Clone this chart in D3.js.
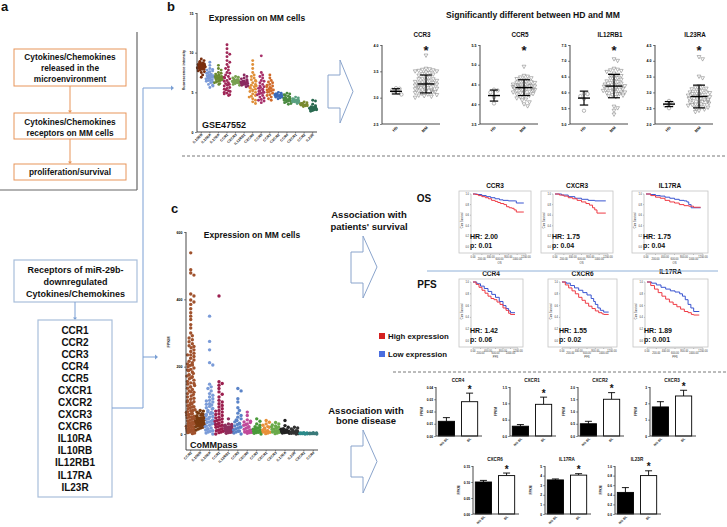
<!DOCTYPE html>
<html><head><meta charset="utf-8">
<script src="https://cdn.jsdelivr.net/npm/d3@7"></script>
<style>body{margin:0;background:#fff}svg{display:block}text{font-family:"Liberation Sans",Arial,Helvetica,sans-serif}</style>
</head><body><svg id="c" width="727" height="527"></svg>
<script>
// ================= DATA =================
const flowTexts = [["Cytokines/Chemokines","released in the","microenvironment"],["Cytokines/Chemokines","receptors on MM cells"],["proliferation/survival"]];
const receptorHeader = ["Receptors of miR-29b-","downregulated","Cytokines/Chemokines"];
const receptorList = ["CCR1","CCR2","CCR3","CCR4","CCR5","CXCR1","CXCR2","CXCR3","CXCR6","IL10RA","IL10RB","IL12RB1","IL17RA","IL23R"];

const gseCategories = ["IL10RB","IL10RA","IL17RA","CCR1","CXCR3","IL12RB1","CXCR6","CCR5","CCR3","CXCR2","CCR4","CXCR1","CCR2","IL23R"];
const gseTicks = [0,5,10,15];
const gseValues = [
 [8.2,8.4,8.0,8.6,8.3,7.9,8.5,8.1,8.8,7.8,8.3,8.7,8.0,8.4,9.0,7.7,8.2,8.6,8.1,8.5,7.5,8.9,8.3,7.9,8.0,8.4,7.2,6.9,8.2,8.6,9.2,7.6,8.1,8.3],
 [7.0,7.2,6.8,7.5,6.5,7.8,6.2,7.1,8.0,6.9,7.3,5.9,6.6,7.6,8.4,7.0,6.4,7.4,5.6,6.7,7.9,7.1,6.3,8.8,6.8,7.2,6.0,7.7,6.5,7.0,5.8,6.9],
 [6.8,7.0,6.6,7.2,6.4,6.9,7.5,6.2,6.7,7.1,8.0,6.5,6.9,7.3,6.1,6.8,7.8,6.6,6.3,7.0,8.4,6.7,7.4,6.0],
 [6.0,5.5,7.0,4.8,8.0,6.5,5.2,9.0,7.5,4.6,10.5,5.8,6.8,8.5,5.0,7.2,9.5,6.2,4.9,11.0,5.6,7.8,6.4,5.3,8.8,6.1,4.7,10.0,7.4,5.9,6.7,5.1,9.8,8.2,5.4,6.9],
 [6.4,6.5,6.2,6.7,6.3,6.6,6.1,6.8,6.4,6.0,6.9,6.5,6.3,6.6,6.2,7.0,6.4,5.9],
 [6.2,6.4,6.0,6.6,5.9,6.3,6.8,6.1,6.5,5.7,6.2,7.0,6.3,5.8,6.4,6.7,6.0,7.2,6.1],
 [5.5,5.0,6.0,4.5,6.5,5.2,7.0,4.2,5.8,6.8,3.8,5.4,7.5,4.8,6.2,8.5,5.6,4.0,6.6,5.1,8.0,3.6,5.9,7.2,4.6,6.4,5.3,9.0,4.4,5.7],
 [5.2,4.8,5.6,4.3,6.0,5.0,6.5,4.0,5.4,7.0,3.7,5.8,4.6,6.8,5.1,7.5,4.4,5.3,3.9,6.2,9.6,4.9,5.5,6.4,4.1,5.7,4.7,7.2,5.0],
 [5.3,5.0,5.6,4.7,5.9,5.2,6.2,4.4,5.5,6.5,4.9,5.8,4.2,6.0,5.4,7.2,4.6,5.1,6.8,5.7,4.0,5.3,6.3],
 [4.6,4.7,4.5,4.8,4.4,4.6,4.9,4.3,4.7,4.5,4.8,4.6,4.4,5.0,4.6,4.2],
 [4.1,4.3,3.9,4.5,3.8,4.2,4.7,3.6,4.0,4.4,4.9,3.7,4.2,4.6,3.9,4.0,4.3,3.5,4.8],
 [3.9,4.0,3.8,4.1,3.7,3.9,4.2,3.8,4.0,3.6,4.3,3.9,4.0,3.8,4.4],
 [3.4,3.5,3.3,3.6,3.4,3.2,3.5,3.7,3.3,3.4,3.6,3.8],
 [3.0,2.9,3.1,2.8,3.0,3.2,2.7,3.0,2.9,3.3,2.8,3.1,2.6,3.0,3.5,2.9,3.2,4.0,3.9,2.8,3.0]
];
const gseColors = ["#7a2e0e","#7a9ad8","#6a8a30","#a02858","#78a050","#8a2a60","#e0903a","#a8306a","#d06a2a","#3a6ab8","#4a8a40","#5aa080","#7a8a30","#2a6a50"];

const commCategories = ["CCR2","IL10RB","IL10RA","CCR1","IL12RB1","CCR5","CXCR6","CCR3","CXCR1","CXCR3","IL17RA","IL23R","CXCR2","CCR4"];
const commTicks = [0,200,400,600];
const commValues = [
 [1,3,4,6,8,9,11,13,14,16,18,20,21,23,25,27,29,31,33,35,37,39,41,44,46,48,51,53,56,58,61,64,66,69,72,75,78,81,84,87,90,93,96,99,103,106,110,113,117,120,124,128,132,136,140,144,148,152,156,160,164,168,172,176,180,184,188,192,196,200,204,208,212,216,220,225,230,235,240,245,250,256,262,268,274,280,10,30,50,70,95,125,150,175,205,235,260,285,292,300,315,325,340,350,360,372,385,392,398,410,416,472,478,488,538,140,170,190,60,80],
 [12,15,18,20,22,24,25,27,28,30,31,32,33,34,35,36,37,38,39,40,41,42,43,44,45,46,48,50,52,54,56,58,60,62,65,68,70,26,29,33,36,39,42,47,30,35,40],
 [0,3,6,10,14,18,22,26,30,34,38,42,46,50,54,58,62,66,70,74,78,82,86,90,95,100,105,110,115,120,128,135,140,148,205,212,250,275,350,8,16,24,32,44,52,64,76,88,98,12,36,60],
 [0,4,8,12,16,20,24,28,32,36,40,45,50,55,60,65,70,75,80,85,90,95,100,110,118,125,135,145,150,155,410,6,14,22,30,38,48,58,68,10,26,42],
 [2,4,6,8,10,12,14,16,18,20,22,24,26,28,30,45,5,9,13,17,21],
 [0,3,6,9,12,15,18,21,24,28,32,36,40,45,50,55,62,70,78,95,105,128,135,8,20,30,42],
 [2,4,6,8,10,14,18,22,26,30,34,38,42,55,65,5,12,20,28,36],
 [0,2,4,6,8,10,12,15,18,22,26,30,38,45,5,9,14,20],
 [1,3,5,7,9,12,15,18,22,26,30,35,40,6,10,20],
 [1,3,5,8,10,12,15,18,21,24,27,30,34,6,14,22],
 [2,3,4,5,6,7,8,9,10,11,12,14,16,20,25,40,6,8],
 [0,1,2,3,4,5,6,8,10,12,15,18,20,3,5],
 [0,0.5,1,1.5,2,2.5,3,4,1,2,3],
 [0,0.5,1,1.5,2,2.5,3,4,1,2]
];
const commColors = ["#a0522d","#7a3b10","#7a9bd8","#9b1f4f","#8e2f5e","#5b84c8","#c04a9a","#4a9a3a","#e8903a","#6aaa4a","#222222","#333333","#2a8a8a","#3a7a7a"];

const sigGenes = ["CCR3","CCR5","IL12RB1","IL23RA"];
const sigGroups = ["HD","MM"];
const sigTicks = [[2.5,3.0,3.5,4.0],[3.5,4.0,4.5,5.0,5.5],[5.0,5.5,6.0,6.5,7.0,7.5],[2.0,2.5,3.0,3.5,4.0,4.5]];
const sigHD = [
 [3.06,3.10,3.12,3.15,3.17,3.18],
 [4.02,4.18,4.30,4.35,4.37],
 [5.42,5.80,5.88,5.95,5.96],
 [2.50,2.58,2.62,2.65,2.73]
];
const sigMM = [
 [3.00,3.02,3.03,3.05,3.06,3.08,3.09,3.10,3.11,3.12,3.13,3.14,3.15,3.16,3.17,3.18,3.19,3.20,3.21,3.22,3.23,3.24,3.25,3.26,3.27,3.28,3.30,3.31,3.32,3.33,3.35,3.36,3.38,3.40,3.42,3.44,3.45,3.47,3.48,3.50,3.51,3.52,3.53,3.54,3.55,3.80,3.04,3.12,3.20,3.35,3.50,3.29],
 [3.95,4.00,4.05,4.10,4.12,4.15,4.18,4.20,4.22,4.24,4.26,4.28,4.30,4.32,4.34,4.36,4.38,4.40,4.41,4.42,4.43,4.44,4.45,4.46,4.47,4.48,4.50,4.52,4.54,4.56,4.58,4.60,4.62,4.64,4.66,4.68,4.70,4.72,4.95,4.25,4.35,4.45,4.55,4.40,4.50,4.30,4.48,4.38],
 [5.30,5.42,5.50,5.55,5.85,5.88,5.90,5.92,5.95,5.98,6.00,6.02,6.05,6.08,6.10,6.12,6.15,6.18,6.20,6.22,6.25,6.28,6.30,6.33,6.36,6.40,6.44,6.48,6.52,6.56,6.60,6.65,6.68,6.70,6.72,6.75,7.00,7.05,6.05,6.15,6.25,6.35,6.45,6.55,6.10,6.20,6.00,5.95],
 [2.38,2.42,2.46,2.50,2.52,2.55,2.58,2.60,2.62,2.65,2.68,2.70,2.72,2.75,2.78,2.80,2.82,2.85,2.88,2.90,2.92,2.95,2.98,3.00,3.02,3.05,3.08,3.10,3.12,3.15,3.20,3.45,3.50,4.05,4.12,2.70,2.80,2.90,3.00,2.75,2.85,2.65,2.95,2.55,2.60,3.18]
];
const sigHDmean = [3.12,4.22,5.82,2.63], sigHDsd = [0.05,0.14,0.22,0.08];
const sigMMmean = [3.26,4.42,6.20,2.87], sigMMsd = [0.17,0.20,0.37,0.36];

const kmTimeTicks = [0,200,400,600,800,1000,1200];
const kmSurvTicks = [0,0.2,0.4,0.6,0.8,1.0];
const osGenes = ["CCR3","CXCR3","IL17RA"], osHR = ["2.00","1.75","1.75"], osP = ["0.01","0.04","0.04"];
const osHigh = [
 [[0,1],[60,0.99],[120,0.97],[200,0.95],[280,0.93],[350,0.91],[420,0.88],[500,0.86],[560,0.84],[620,0.82],[700,0.80],[760,0.76],[820,0.74],[880,0.73],[930,0.70],[980,0.66],[1150,0.66]],
 [[0,1],[100,0.98],[200,0.96],[300,0.93],[400,0.91],[500,0.88],[600,0.85],[700,0.82],[780,0.79],[850,0.74],[900,0.70],[950,0.64],[1150,0.64]],
 [[0,1],[100,0.97],[200,0.94],[300,0.92],[400,0.88],[500,0.85],[600,0.83],[700,0.80],[800,0.78],[900,0.77],[1000,0.75],[1150,0.75]]
];
const osLow = [
 [[0,1],[100,0.99],[200,0.97],[300,0.95],[400,0.93],[500,0.91],[600,0.89],[680,0.88],[800,0.87],[960,0.87],[980,0.83],[1150,0.83]],
 [[0,1],[150,0.98],[300,0.95],[450,0.92],[600,0.90],[750,0.88],[900,0.87],[1150,0.87]],
 [[0,1],[100,0.99],[200,0.97],[300,0.96],[400,0.94],[500,0.92],[600,0.90],[700,0.88],[800,0.87],[860,0.85],[900,0.80],[950,0.74],[1150,0.74]]
];
const pfsGenes = ["CCR4","CXCR6","IL17RA"], pfsHR = ["1.42","1.55","1.89"], pfsP = ["0.06","0.02","0.001"];
const pfsHigh = [
 [[0,1],[80,0.96],[160,0.91],[240,0.86],[320,0.81],[400,0.76],[480,0.72],[560,0.70],[640,0.66],[720,0.62],[800,0.56],[880,0.52],[950,0.47],[1000,0.45],[1120,0.45]],
 [[0,1],[80,0.95],[160,0.90],[240,0.85],[320,0.80],[400,0.74],[480,0.69],[560,0.64],[640,0.59],[720,0.55],[800,0.51],[880,0.48],[960,0.46],[1000,0.45],[1120,0.45]],
 [[0,1],[80,0.94],[160,0.88],[240,0.82],[320,0.76],[400,0.71],[480,0.66],[560,0.62],[640,0.58],[720,0.54],[800,0.50],[880,0.48],[950,0.45],[1000,0.44],[1120,0.44]]
];
const pfsLow = [
 [[0,1],[100,0.97],[200,0.93],[300,0.89],[400,0.84],[500,0.79],[600,0.74],[700,0.67],[800,0.60],[880,0.55],[950,0.51],[1000,0.48],[1120,0.48]],
 [[0,1],[100,0.98],[200,0.94],[300,0.90],[400,0.86],[500,0.82],[600,0.78],[700,0.72],[760,0.67],[800,0.62],[860,0.56],[920,0.52],[1000,0.49],[1120,0.49]],
 [[0,1],[100,0.98],[200,0.95],[300,0.91],[400,0.88],[500,0.85],[600,0.83],[700,0.80],[760,0.76],[820,0.70],[880,0.62],[940,0.56],[1000,0.50],[1120,0.50]]
];
const legendLabels = ["High expression","Low expression"];

const boneGenes = ["CCR4","CXCR1","CXCR2","CXCR3","CXCR6","IL17RA","IL23R"];
const boneGroups = ["NO BL","BL"];
const boneNoBL = [0.012,0.30,0.50,1.78,0.100,3.55,0.45];
const boneNoBLerr = [0.003,0.05,0.10,0.32,0.005,0.10,0.10];
const boneBL = [0.028,0.97,1.50,2.45,0.120,4.05,0.80];
const boneBLerr = [0.007,0.22,0.27,0.35,0.008,0.15,0.10];
const boneTicks = [[0,0.01,0.02,0.03,0.04],[0,0.5,1.0,1.5],[0,0.5,1.0,1.5,2.0],[0,1,2,3],[0,0.05,0.10,0.15],[0,1,2,3,4,5],[0,0.2,0.4,0.6,0.8,1.0]];
const boneTickFmt = [".2f",".1f",".1f","d",".2f","d",".1f"];

// ================= DRAWING =================
const svg = d3.select("#c");
const ORANGE = "#e8955a", BLUE = "#7a9fd4", BOXBLUE = "#a8bedb";

function txt(g, x, y, s, size, opts = {}) {
  return g.append("text").attr("x", x).attr("y", y).text(s)
    .attr("font-size", size).attr("font-weight", opts.w || "bold")
    .attr("text-anchor", opts.a || "middle").attr("fill", opts.c || "#111");
}
function arrowHead(g, x, y, dir, color, s = 3) {
  let pts;
  if (dir === "down") pts = [[x - s * 0.8, y - s], [x + s * 0.8, y - s], [x, y]];
  else pts = [[x - s, y - s * 0.8], [x - s, y + s * 0.8], [x, y]];
  g.append("polygon").attr("points", pts.map(p => p.join(",")).join(" ")).attr("fill", color);
}

// ---- panel a ----
const ga = svg.append("g");
txt(ga, 1, 11, "a", 13, { a: "start" });
ga.append("line").attr("x1", 137).attr("y1", 32).attr("x2", 137).attr("y2", 190).attr("stroke", "#666").attr("stroke-width", 1.2);
ga.append("line").attr("x1", 0).attr("y1", 190).attr("x2", 137).attr("y2", 190).attr("stroke", "#666").attr("stroke-width", 1.2);
const flowBoxes = [{ y: 49, h: 37, lines: [60, 71, 82] }, { y: 113, h: 26, lines: [125, 135.5] }, { y: 164, h: 16, lines: [175] }];
flowBoxes.forEach((b, i) => {
  ga.append("rect").attr("x", 14).attr("y", b.y).attr("width", 112).attr("height", b.h).attr("fill", "#fff").attr("stroke", ORANGE).attr("stroke-width", 1);
  flowTexts[i].forEach((t, j) => txt(ga, 70, b.lines[j], t, 8.3));
});
[[86, 113], [139, 164]].forEach(([a, b]) => {
  ga.append("line").attr("x1", 70).attr("y1", a).attr("x2", 70).attr("y2", b - 2).attr("stroke", ORANGE).attr("stroke-width", 1);
  arrowHead(ga, 70, b, "down", ORANGE, 2.5);
});
ga.append("rect").attr("x", 14).attr("y", 260).attr("width", 123).attr("height", 42).attr("fill", "#fff").attr("stroke", BOXBLUE).attr("stroke-width", 1.2);
receptorHeader.forEach((t, j) => txt(ga, 75.5, 272.5 + j * 12, t, 9));
ga.append("line").attr("x1", 75).attr("y1", 302).attr("x2", 75).attr("y2", 318).attr("stroke", BLUE).attr("stroke-width", 1);
arrowHead(ga, 75, 320, "down", BLUE, 2.5);
ga.append("rect").attr("x", 38).attr("y", 320).attr("width", 74).attr("height", 177).attr("fill", "#fff").attr("stroke", BOXBLUE).attr("stroke-width", 1.2);
receptorList.forEach((t, j) => txt(ga, 75, 333.6 + j * 12.08, t, 10));
ga.append("polyline").attr("points", "112,408 143,408 143,88 171,88").attr("fill", "none").attr("stroke", BLUE).attr("stroke-width", 1);
arrowHead(ga, 174, 88, "right", BLUE, 3);
ga.append("line").attr("x1", 143).attr("y1", 357).attr("x2", 155).attr("y2", 357).attr("stroke", BLUE).attr("stroke-width", 1);
arrowHead(ga, 158, 357, "right", BLUE, 3);

// ---- beeswarm helper ----
function swarm(vals, ys, cx, r, maxOff) {
  const pts = vals.map(v => ({ v, y: ys(v) })).sort((a, b) => a.y - b.y);
  const placed = [];
  const step = r * 0.95;
  pts.forEach((p, j) => {
    let chosen = null;
    for (let k = 0; k < 80; k++) {
      const off = (k % 2 === 1 ? 1 : -1) * Math.ceil(k / 2) * step;
      if (Math.abs(off) > maxOff) break;
      const xx = cx + off;
      let ok = true;
      for (const q of placed) {
        if (Math.abs(q.y - p.y) < 1.8 * r && Math.hypot(q.x - xx, q.y - p.y) < 1.8 * r) { ok = false; break; }
      }
      if (ok) { chosen = xx; break; }
    }
    if (chosen === null) chosen = cx + (((j * 37) % 21) / 10 - 1) * maxOff;
    placed.push({ x: chosen, y: p.y, v: p.v });
  });
  return placed;
}

function scatterPanel(cfg) {
  const g = svg.append("g");
  const y = d3.scaleLinear().domain([0, cfg.max]).range([cfg.y0, cfg.y1]);
  const x = d3.scalePoint().domain(cfg.cats).range([cfg.x0, cfg.x1]).padding(0.5);
  cfg.values.forEach((vals, i) => {
    const pts = swarm(vals, y, x(cfg.cats[i]), cfg.r, x.step() * 0.46);
    g.selectAll(null).data(pts).enter().append("circle")
      .attr("cx", d => d.x).attr("cy", d => d.y).attr("r", cfg.r).attr("fill", cfg.colors[i]);
  });
  const ax = d3.axisLeft(y).tickValues(cfg.ticks).tickSize(2).tickPadding(1.5);
  const ag = g.append("g").attr("transform", `translate(${cfg.x0},0)`).call(ax);
  ag.select(".domain").remove();
  ag.selectAll("text").attr("font-size", 3.6).attr("font-weight", "bold");
  ag.selectAll("line").attr("stroke", "#333").attr("stroke-width", 0.6);
  g.append("line").attr("x1", cfg.x0).attr("x2", cfg.x0).attr("y1", cfg.y1).attr("y2", cfg.axisBottom).attr("stroke", "#333").attr("stroke-width", 0.9);
  g.append("line").attr("x1", cfg.x0).attr("x2", cfg.x1).attr("y1", cfg.axisBottom).attr("y2", cfg.axisBottom).attr("stroke", "#333").attr("stroke-width", 0.9);
  cfg.cats.forEach(c => {
    g.append("line").attr("x1", x(c)).attr("x2", x(c)).attr("y1", cfg.axisBottom).attr("y2", cfg.axisBottom + 1.5).attr("stroke", "#333").attr("stroke-width", 0.5);
    g.append("text").attr("transform", `translate(${x(c) + 1.5},${cfg.axisBottom + 3}) rotate(-45)`)
      .attr("text-anchor", "end").attr("font-size", 3.6).attr("font-weight", "bold").attr("fill", "#222").text(c);
  });
  g.append("text").attr("transform", `translate(${cfg.ylabX},${cfg.ylabY}) rotate(-90)`).attr("text-anchor", "middle")
    .attr("font-size", 3.8).attr("font-weight", "bold").attr("fill", "#222").text(cfg.ylab);
  txt(g, cfg.titleX, cfg.titleY, "Expression on MM cells", 8.5);
  txt(g, cfg.tagX, cfg.tagY, cfg.tag, 9, { a: "start" });
}

// ---- panel b left ----
txt(svg, 167, 11, "b", 13, { a: "start" });
scatterPanel({ cats: gseCategories, values: gseValues, colors: gseColors, max: 15, ticks: gseTicks,
  y0: 132, y1: 13, x0: 197, x1: 317, axisBottom: 132, r: 1.45, ylab: "fluorescence intensity", ylabX: 185, ylabY: 70,
  titleX: 257, titleY: 21, tag: "GSE47552", tagX: 202, tagY: 128 });

// ---- panel c ----
txt(svg, 171, 213, "c", 13, { a: "start" });
scatterPanel({ cats: commCategories, values: commValues, colors: commColors, max: 600, ticks: commTicks,
  y0: 434, y1: 232, x0: 186, x1: 318, axisBottom: 450, r: 1.7, ylab: "FPKM", ylabX: 170, ylabY: 342,
  titleX: 252, titleY: 238, tag: "CoMMpass", tagX: 190, tagY: 447.5 });

// ---- big arrows & texts ----
function bigArrow(x0, xh, xt, yb0, yb1, yh0, yh1) {
  const yc = (yh0 + yh1) / 2;
  svg.append("polygon").attr("points", [[x0, yb0], [xh, yb0], [xh, yh0], [xt, yc], [xh, yh1], [xh, yb1], [x0, yb1]].map(p => p.join(",")).join(" "))
    .attr("fill", "#fff").attr("stroke", "#8aa4cc").attr("stroke-width", 1);
}
bigArrow(328, 340, 353, 75, 108, 60, 123);
bigArrow(351, 363, 377, 252, 283, 236, 298);
bigArrow(351, 363, 377, 446, 477, 430, 493);
txt(svg, 369, 218, "Association with", 9.5);
txt(svg, 369, 230, "patients' survival", 9.5);
txt(svg, 366, 414, "Association with", 9.5);
txt(svg, 366, 424, "bone disease", 9.5);

// dashed separators
svg.append("line").attr("x1", 182).attr("x2", 727).attr("y1", 156).attr("y2", 156).attr("stroke", "#555").attr("stroke-width", 0.8).attr("stroke-dasharray", "3,2");
svg.append("line").attr("x1", 393).attr("x2", 727).attr("y1", 372).attr("y2", 372).attr("stroke", "#555").attr("stroke-width", 0.8).attr("stroke-dasharray", "3,2");

// ---- panel b right: HD vs MM ----
txt(svg, 533, 18, "Significantly  different between HD and MM", 8.6);
const sigAxisX = [382, 480, 570, 655];
sigGenes.forEach((gname, i) => {
  const g = svg.append("g");
  const ax0 = sigAxisX[i];
  const t = sigTicks[i];
  const y = d3.scaleLinear().domain([t[0], t[t.length - 1]]).range([124, 45]);
  const x = d3.scalePoint().domain(sigGroups).range([ax0 + 14, ax0 + 44]);
  const ag = g.append("g").attr("transform", `translate(${ax0},0)`).call(d3.axisLeft(y).tickValues(t).tickFormat(d3.format(".1f")).tickSize(2).tickPadding(1.5));
  ag.select(".domain").remove();
  ag.selectAll("text").attr("font-size", 3.6).attr("font-weight", "bold");
  ag.selectAll("line").attr("stroke", "#333").attr("stroke-width", 0.6);
  g.append("line").attr("x1", ax0).attr("x2", ax0).attr("y1", 45).attr("y2", 124).attr("stroke", "#333").attr("stroke-width", 0.9);
  g.append("line").attr("x1", ax0).attr("x2", ax0 + 58).attr("y1", 124).attr("y2", 124).attr("stroke", "#333").attr("stroke-width", 0.9);
  const hd = swarm(sigHD[i], y, x("HD"), 1.9, 7);
  g.selectAll(null).data(hd).enter().append("circle").attr("cx", d => d.x).attr("cy", d => d.y).attr("r", 1.7)
    .attr("fill", "none").attr("stroke", "#888").attr("stroke-width", 0.6);
  const mm = swarm(sigMM[i], y, x("MM"), 1.9, 11);
  g.selectAll(null).data(mm).enter().append("path")
    .attr("d", d => `M${d.x - 1.9},${d.y - 1.5}L${d.x + 1.9},${d.y - 1.5}L${d.x},${d.y + 1.9}Z`)
    .attr("fill", "none").attr("stroke", "#888").attr("stroke-width", 0.6);
  [["HD", sigHDmean[i], sigHDsd[i], 6], ["MM", sigMMmean[i], sigMMsd[i], 8.5]].forEach(([grp, m, sd, hw]) => {
    const cx = x(grp);
    g.append("line").attr("x1", cx - hw).attr("x2", cx + hw).attr("y1", y(m)).attr("y2", y(m)).attr("stroke", "#000").attr("stroke-width", 1.4);
    g.append("line").attr("x1", cx).attr("x2", cx).attr("y1", y(m - sd)).attr("y2", y(m + sd)).attr("stroke", "#000").attr("stroke-width", 1.2);
    [m - sd, m + sd].forEach(v => g.append("line").attr("x1", cx - hw * 0.7).attr("x2", cx + hw * 0.7).attr("y1", y(v)).attr("y2", y(v)).attr("stroke", "#000").attr("stroke-width", 1.2));
  });
  txt(g, x("MM"), 55, "*", 13);
  sigGroups.forEach(s => g.append("text").attr("transform", `translate(${x(s) + 2},${128}) rotate(-45)`)
    .attr("text-anchor", "end").attr("font-size", 4).attr("font-weight", "bold").attr("fill", "#222").text(s));
  txt(g, ax0 + 40, 37, gname, 6.3);
});

// ---- KM panels ----
function kmPanel(fx, fy, fw, fh, title, titleY, high, low, hr, p, xlab) {
  const g = svg.append("g");
  g.append("rect").attr("x", fx).attr("y", fy).attr("width", fw).attr("height", fh).attr("fill", "#fff").attr("stroke", "#c4c4c4").attr("stroke-width", 0.8);
  const x = d3.scaleLinear().domain([0, 1200]).range([fx + 14, fx + fw - 5]);
  const y = d3.scaleLinear().domain([0, 1]).range([fy + fh - 6, fy + 3]);
  g.append("line").attr("x1", x(0) - 2).attr("x2", x(0) - 2).attr("y1", y(1)).attr("y2", y(0)).attr("stroke", "#777").attr("stroke-width", 0.4);
  kmSurvTicks.forEach(v => {
    g.append("line").attr("x1", x(0) - 3).attr("x2", x(0) - 2).attr("y1", y(v)).attr("y2", y(v)).attr("stroke", "#777").attr("stroke-width", 0.4);
    g.append("text").attr("x", x(0) - 4).attr("y", y(v) + 0.9).attr("text-anchor", "end").attr("font-size", 2.6).attr("fill", "#333").text(d3.format(".1f")(v));
  });
  g.append("text").attr("transform", `translate(${fx + 3.5},${(y(0) + y(1)) / 2}) rotate(-90)`).attr("text-anchor", "middle").attr("font-size", 2.6).attr("fill", "#333").text("Cum Survival");
  const xb = fy + fh + 1;
  g.append("line").attr("x1", x(0)).attr("x2", x(1200)).attr("y1", xb).attr("y2", xb).attr("stroke", "#777").attr("stroke-width", 0.4);
  kmTimeTicks.forEach((v, k) => {
    g.append("line").attr("x1", x(v)).attr("x2", x(v)).attr("y1", xb).attr("y2", xb + 1).attr("stroke", "#777").attr("stroke-width", 0.4);
    g.append("text").attr("x", x(v)).attr("y", xb + (k % 2 ? 6 : 3.5)).attr("text-anchor", "middle").attr("font-size", 2.6).attr("fill", "#333").text(d3.format(".2f")(v));
  });
  g.append("text").attr("x", (x(0) + x(1200)) / 2).attr("y", xb + 9.5).attr("text-anchor", "middle").attr("font-size", 2.8).attr("fill", "#333").text(xlab);
  const line = d3.line().x(d => x(d[0])).y(d => y(d[1])).curve(d3.curveStepAfter);
  g.append("path").attr("d", line(low)).attr("fill", "none").attr("stroke", "#3a55d0").attr("stroke-width", 1);
  g.append("path").attr("d", line(high)).attr("fill", "none").attr("stroke", "#ee3a44").attr("stroke-width", 1);
  txt(g, x(0) - 3, y(0) - 8, "HR: " + hr, 7, { a: "start" });
  txt(g, x(0) - 3, y(0) + 0.5, "p: " + p, 7, { a: "start" });
  txt(g, fx + fw / 2, titleY, title, 6.5);
}
txt(svg, 424, 201.5, "OS", 10);
txt(svg, 427, 287.5, "PFS", 10);
const osFrames = [[459, 72], [541, 72], [632, 76]];
osGenes.forEach((gn, i) => kmPanel(osFrames[i][0], 191, osFrames[i][1], 62, gn, 188, osHigh[i], osLow[i], osHR[i], osP[i], "OS"));
const pfsFrames = [[459, 64], [548, 69], [633, 75]];
pfsGenes.forEach((gn, i) => kmPanel(pfsFrames[i][0], 279, pfsFrames[i][1], 68, gn, i === 2 ? 274 : 276, pfsHigh[i], pfsLow[i], pfsHR[i], pfsP[i], "PFS"));
svg.append("line").attr("x1", 427).attr("x2", 718).attr("y1", 271).attr("y2", 271).attr("stroke", "#8fb0d8").attr("stroke-width", 1);
[["#d42020", 333], ["#4a6ee0", 351]].forEach(([c, yy], i) => {
  svg.append("rect").attr("x", 379).attr("y", yy).attr("width", 6).attr("height", 6).attr("fill", c);
  txt(svg, 388, yy + 5.8, legendLabels[i], 7.8, { a: "start" });
});

// ---- bone disease bar charts ----
const boneLayout = [[436, 387, 436], [510, 387, 436], [578, 387, 436], [650, 387, 436], [473, 466, 514], [545, 466, 514], [615, 466, 514]];
boneGenes.forEach((gn, i) => {
  const [ax0, top, base] = boneLayout[i];
  const g = svg.append("g");
  const t = boneTicks[i];
  const y = d3.scaleLinear().domain([0, t[t.length - 1]]).range([base, top]);
  const x = d3.scaleBand().domain(boneGroups).range([ax0, ax0 + 44]).paddingInner(0.3).paddingOuter(0.1);
  const vals = [boneNoBL[i], boneBL[i]], errs = [boneNoBLerr[i], boneBLerr[i]];
  boneGroups.forEach((grp, k) => {
    const cx = x(grp) + x.bandwidth() / 2;
    g.append("line").attr("x1", cx).attr("x2", cx).attr("y1", y(vals[k])).attr("y2", y(vals[k] + errs[k])).attr("stroke", "#000").attr("stroke-width", 0.9);
    g.append("line").attr("x1", cx - 3.5).attr("x2", cx + 3.5).attr("y1", y(vals[k] + errs[k])).attr("y2", y(vals[k] + errs[k])).attr("stroke", "#000").attr("stroke-width", 0.9);
    g.append("rect").attr("x", x(grp)).attr("y", y(vals[k])).attr("width", x.bandwidth()).attr("height", base - y(vals[k]))
      .attr("fill", k === 0 ? "#000" : "#fff").attr("stroke", "#000").attr("stroke-width", 0.9);
    g.append("text").attr("transform", `translate(${cx + 2},${base + 3}) rotate(-45)`).attr("text-anchor", "end")
      .attr("font-size", 3.4).attr("font-weight", "bold").attr("fill", "#222").text(grp);
  });
  const ag = g.append("g").attr("transform", `translate(${ax0},0)`).call(d3.axisLeft(y).tickValues(t).tickFormat(d3.format(boneTickFmt[i])).tickSize(1.8).tickPadding(1.2));
  ag.select(".domain").remove();
  ag.selectAll("text").attr("font-size", 3.2).attr("font-weight", "bold");
  ag.selectAll("line").attr("stroke", "#333").attr("stroke-width", 0.6);
  g.append("line").attr("x1", ax0).attr("x2", ax0).attr("y1", top).attr("y2", base).attr("stroke", "#333").attr("stroke-width", 0.9);
  g.append("line").attr("x1", ax0).attr("x2", ax0 + 46).attr("y1", base).attr("y2", base).attr("stroke", "#333").attr("stroke-width", 0.9);
  g.append("text").attr("transform", `translate(${ax0 - 13},${(top + base) / 2}) rotate(-90)`).attr("text-anchor", "middle")
    .attr("font-size", 3.2).attr("font-weight", "bold").attr("fill", "#222").text("FPKM");
  const bx = x("BL") + x.bandwidth() / 2;
  txt(g, bx, y(vals[1] + errs[1]) - 0.5, "*", 10);
  txt(g, ax0 + 22, top - 5, gn, 4.6);
});
</script></body></html>
